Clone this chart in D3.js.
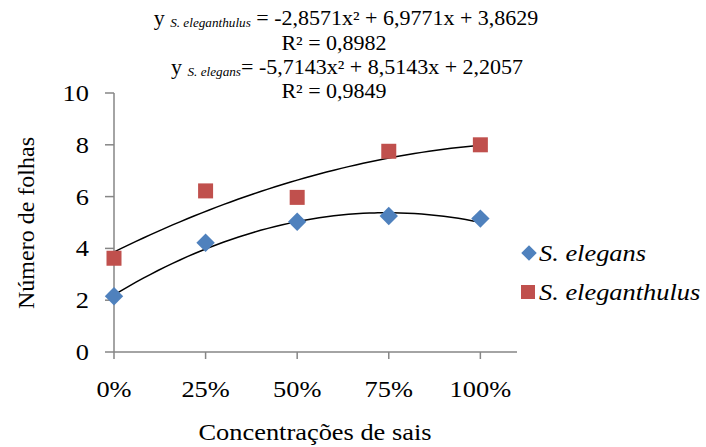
<!DOCTYPE html>
<html lang="pt">
<head>
<meta charset="utf-8">
<script src="https://d3js.org/d3.v7.min.js"></script>
<style>
  body { margin: 0; background: #fff; font-family: "Liberation Serif", "Times New Roman", Times, serif; }
</style>
</head>
<body>
<div id="grafico"></div>
<script>
// dados
const concentracoes = [0, 0.25, 0.5, 0.75, 1];
const rotulosX = ["0%", "25%", "50%", "75%", "100%"];
const ticksY = [0, 2, 4, 6, 8, 10];
const elegans = [2.15, 4.22, 5.03, 5.25, 5.15];
const eleganthulus = [3.62, 6.22, 5.97, 7.75, 8.0];
// coeficientes das linhas de tendência (a x² + b x + c)
const coefElegans = [-5.7143, 8.5143, 2.2057];
const coefEleganthulus = [-2.8571, 6.9771, 3.8629];
const r2Elegans = "0,9849";
const r2Eleganthulus = "0,8982";
const series = ["S. elegans", "S. eleganthulus"];

const largura = 706, altura = 447;
const azul = "#4F81BD", vermelho = "#C0504D", cinza = "#868686";
const fonte = "'Liberation Serif', 'Times New Roman', Times, serif";
const esticar = 1.1; // o texto do original está um pouco largo

const svg = d3.select("#grafico").append("svg")
    .attr("width", largura).attr("height", altura)
    .attr("font-family", fonte);

const x = d3.scaleLinear().domain([0, 1.1]).range([114, 517]);
const y = d3.scaleLinear().domain([0, 10]).range([352, 93]);

// texto com esticamento horizontal
function texto(px, py, ancora, tamanho) {
    return svg.append("g")
        .attr("transform", `translate(${px},${py}) scale(${esticar},1)`)
        .append("text")
        .attr("text-anchor", ancora)
        .attr("font-size", tamanho);
}

// eixo Y
svg.append("line").attr("x1", x(0)).attr("x2", x(0))
    .attr("y1", y(0)).attr("y2", y(10))
    .attr("stroke", cinza).attr("stroke-width", 1.5);
svg.selectAll(".tickY").data(ticksY).enter().append("line")
    .attr("x1", x(0) - 9).attr("x2", x(0))
    .attr("y1", d => y(d)).attr("y2", d => y(d))
    .attr("stroke", cinza).attr("stroke-width", 1.5);
ticksY.forEach(d => {
    texto(89, y(d) + 8, "end", 24).text(d);
});

// eixo X
svg.append("line").attr("x1", x(0)).attr("x2", x(1.1))
    .attr("y1", y(0)).attr("y2", y(0))
    .attr("stroke", cinza).attr("stroke-width", 1.5);
svg.selectAll(".tickX").data(concentracoes).enter().append("line")
    .attr("x1", d => x(d)).attr("x2", d => x(d))
    .attr("y1", y(0)).attr("y2", y(0) + 7)
    .attr("stroke", cinza).attr("stroke-width", 1.5);
concentracoes.forEach((d, i) => {
    texto(x(d), 397, "middle", 24).text(rotulosX[i]);
});

// títulos
texto(315, 440, "middle", 24).text("Concentrações de sais");
svg.append("text")
    .attr("transform", "translate(34,223) rotate(-90)")
    .attr("text-anchor", "middle")
    .attr("font-size", 24)
    .text("Número de folhas");

// linhas de tendência
function tendencia(coef) {
    const pts = d3.range(0, 1.0001, 0.02).map(t => [t, coef[0] * t * t + coef[1] * t + coef[2]]);
    svg.append("path")
        .datum(pts)
        .attr("fill", "none")
        .attr("stroke", "#000")
        .attr("stroke-width", 1.5)
        .attr("d", d3.line().x(p => x(p[0])).y(p => y(p[1])).curve(d3.curveMonotoneX));
}
tendencia(coefElegans);
tendencia(coefEleganthulus);

// pontos
svg.selectAll(".quadrado").data(eleganthulus).enter().append("rect")
    .attr("x", (d, i) => x(concentracoes[i]) - 7.5)
    .attr("y", d => y(d) - 7.5)
    .attr("width", 15).attr("height", 15)
    .attr("fill", vermelho);
svg.selectAll(".losango").data(elegans).enter().append("rect")
    .attr("width", 13).attr("height", 13)
    .attr("transform", (d, i) => `translate(${x(concentracoes[i])},${y(d)}) rotate(45) translate(-6.5,-6.5)`)
    .attr("fill", azul);

// legenda
svg.append("rect").attr("width", 11).attr("height", 11)
    .attr("transform", "translate(529,253) rotate(45) translate(-5.5,-5.5)")
    .attr("fill", azul);
svg.append("rect").attr("x", 521).attr("y", 285).attr("width", 14).attr("height", 14)
    .attr("fill", vermelho);
texto(539, 261, "start", 24).attr("font-style", "italic").text(series[0]);
texto(539, 300, "start", 24).attr("font-style", "italic").text(series[1]);

// equações
function equacao(cx, cy, nome, coef, espaco) {
    const t = texto(cx, cy, "middle", 20);
    const f = v => String(Math.abs(v)).replace(".", ",");
    t.append("tspan").text("y ");
    t.append("tspan").attr("font-size", 12).attr("font-style", "italic").attr("dy", 2).text(nome);
    t.append("tspan").attr("dy", -2)
        .text(`${espaco}= ${coef[0] < 0 ? "-" : ""}${f(coef[0])}x² + ${f(coef[1])}x + ${f(coef[2])}`);
}
equacao(346, 25, series[1], coefEleganthulus, " ");
texto(334, 50, "middle", 20).text("R² = " + r2Eleganthulus);
equacao(347, 74, series[0], coefElegans, "");
texto(334, 98, "middle", 20).text("R² = " + r2Elegans);
</script>
</body>
</html>
